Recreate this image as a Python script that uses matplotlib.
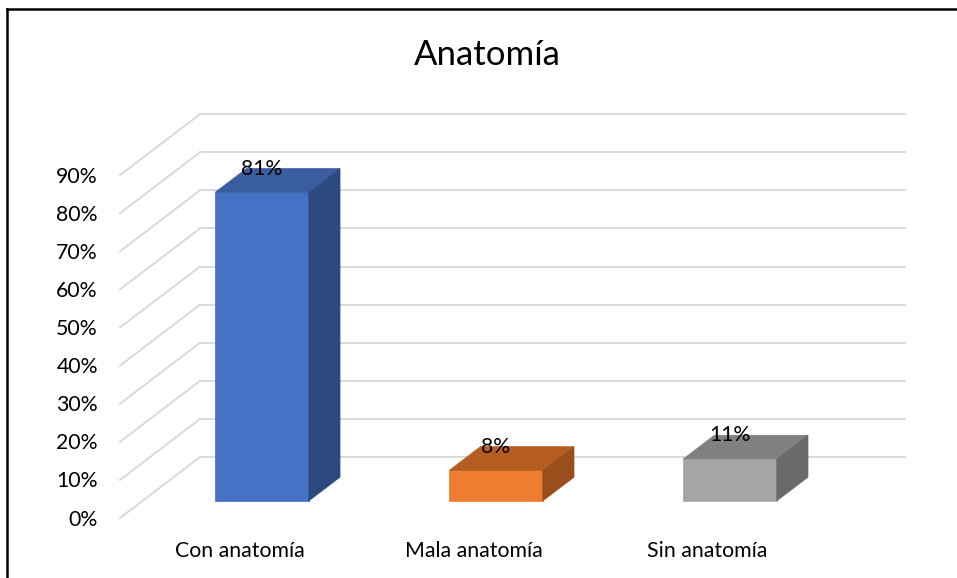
import matplotlib.pyplot as plt
from matplotlib.patches import Polygon
from matplotlib.lines import Line2D

categories = ["Con anatomía", "Mala anatomía", "Sin anatomía"]
values = [81, 8, 11]
labels = ["81%", "8%", "11%"]
front_colors = ["#4472C4", "#ED7D31", "#A5A5A5"]
top_colors = ["#3A5DA0", "#B65D22", "#808080"]
side_colors = ["#2C4A80", "#9A4E1C", "#6A6A6A"]
yticks = [0, 10, 20, 30, 40, 50, 60, 70, 80, 90]

plt.rcParams['font.family'] = ['Lato', 'DejaVu Sans']

fig = plt.figure(figsize=(9.57, 5.78), dpi=100)
ax = fig.add_axes([0, 0, 1, 1])
# front plane: category units on x, percent on y
ax.set_xlim(-1.024, 3.066)
ax.set_ylim(-15.75, 135.96)
ax.axis('off')

# depth of the 3d box (full wall depth) in data units
ddx, ddy = 0.342, 16.0
f0, f1 = 0.28, 0.67   # bar front / back depth fraction
bw = 0.40
x_left = -0.511
x_right = 2.844
grid_c = "#D9D9D9"

for t in yticks:
    ax.plot([x_left, x_left + ddx], [t, t + ddy], color=grid_c, lw=1.4, zorder=1)
    ax.plot([x_left + ddx, x_right], [t + ddy, t + ddy], color=grid_c, lw=1.4, zorder=1)
    ax.text(x_left - 0.095, t - 0.4, f"{t}%", ha='right', va='center', fontsize=15.3, color="#000000")

for i, (v, fc, tc, sc) in enumerate(zip(values, front_colors, top_colors, side_colors)):
    x0 = i - bw / 2 + f0 * ddx
    x1 = x0 + bw
    y0 = f0 * ddy
    bx = (f1 - f0) * ddx
    by = (f1 - f0) * ddy
    front = [(x0, y0), (x1, y0), (x1, y0 + v), (x0, y0 + v)]
    top = [(x0, y0 + v), (x1, y0 + v), (x1 + bx, y0 + v + by), (x0 + bx, y0 + v + by)]
    side = [(x1, y0), (x1 + bx, y0 + by), (x1 + bx, y0 + v + by), (x1, y0 + v)]
    ax.add_patch(Polygon(front, closed=True, facecolor=fc, edgecolor=fc, lw=0.5, zorder=3))
    ax.add_patch(Polygon(top, closed=True, facecolor=tc, edgecolor=tc, lw=0.5, zorder=3))
    ax.add_patch(Polygon(side, closed=True, facecolor=sc, edgecolor=sc, lw=0.5, zorder=3))
    ax.text(i + f0 * ddx, v + f1 * ddy, labels[i], ha='center', va='center',
            fontsize=15.3, color="#000000", zorder=5)
    ax.text(i, -8.6, categories[i], ha='center', va='center', fontsize=15.3, color="#000000")

fig.text(0.509, 0.905, "Anatomía", ha='center', va='center', fontsize=25, color="#000000")

# chart frame (only top and left visible)
fig.add_artist(Line2D([7 / 957, 7 / 957], [0, 1 - 9 / 578], transform=fig.transFigure,
                      color="black", lw=1.8))
fig.add_artist(Line2D([7 / 957, 1], [1 - 9 / 578, 1 - 9 / 578], transform=fig.transFigure,
                      color="black", lw=1.8))

fig.savefig("out.png", dpi=100)
